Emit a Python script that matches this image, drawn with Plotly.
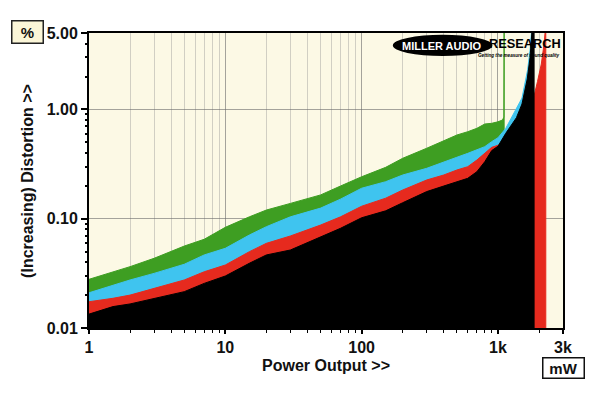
import plotly.graph_objects as go

# ---------------- data ----------------
green_x = [1, 1.5, 2, 3, 5, 7, 10, 15, 20, 30, 50, 70, 100, 150, 200, 300, 400, 500,
           600, 700, 800, 900, 1000, 1080, 1105, 1110]
green_y = [0.0279, 0.0327, 0.0364, 0.0434, 0.0562, 0.0648, 0.0834, 0.104, 0.120, 0.138,
           0.165, 0.199, 0.242, 0.295, 0.357, 0.441, 0.517, 0.583, 0.625, 0.671, 0.735,
           0.746, 0.77, 0.80, 0.85, 6.0]

cyan_x = [1, 1.5, 2, 3, 5, 7, 10, 15, 20, 30, 50, 70, 100, 150, 200, 300, 400, 500,
          600, 700, 800, 900, 1000, 1140, 1350, 1500, 1650, 1720, 1780]
cyan_y = [0.0210, 0.0247, 0.0275, 0.0316, 0.0383, 0.0466, 0.0536, 0.0709, 0.0845, 0.104,
          0.125, 0.151, 0.190, 0.218, 0.251, 0.289, 0.332, 0.365, 0.396, 0.431, 0.456,
          0.507, 0.55, 0.67, 0.99, 1.27, 2.3, 3.5, 6.0]

red_x = [1, 1.5, 2, 3, 5, 7, 10, 15, 20, 30, 50, 70, 100, 150, 200, 300, 400, 500,
         600, 700, 800, 900, 1000, 1200, 1500, 1841, 1950, 2080, 2180, 2243]
red_y = [0.0174, 0.0187, 0.0200, 0.0231, 0.0275, 0.0327, 0.0377, 0.0499, 0.0595, 0.0695,
         0.0875, 0.104, 0.130, 0.154, 0.183, 0.226, 0.251, 0.279, 0.299, 0.344, 0.397,
         0.45, 0.47, 0.50, 0.70, 1.33, 1.8, 2.6, 4.0, 6.0]

black_x = [1, 1.5, 2, 3, 5, 7, 10, 15, 20, 30, 50, 70, 100, 150, 200, 300, 400, 500,
           600, 700, 800, 900, 1000, 1140, 1366, 1500, 1640, 1720, 1790, 1841]
black_y = [0.0134, 0.0157, 0.0166, 0.0187, 0.0215, 0.0256, 0.0299, 0.0391, 0.0466, 0.0517,
           0.0684, 0.0817, 0.102, 0.118, 0.140, 0.177, 0.199, 0.218, 0.234, 0.269, 0.332,
           0.42, 0.46, 0.604, 0.84, 1.12, 1.9, 3.0, 6.0, 6.0]

x_tick_vals = [1, 10, 100, 1000, 3000]
x_tick_text = ["1", "10", "100", "1k", "3k"]
x_minor_vals = [2, 3, 4, 5, 6, 7, 8, 9, 20, 30, 40, 50, 60, 70, 80, 90,
                200, 300, 400, 500, 600, 700, 800, 900, 2000]
y_tick_vals = [0.01, 0.1, 1, 5]
y_tick_text = ["0.01", "0.10", "1.00", "5.00"]
y_minor_vals = [0.02, 0.03, 0.04, 0.05, 0.06, 0.07, 0.08, 0.09,
                0.2, 0.3, 0.4, 0.5, 0.6, 0.7, 0.8, 0.9, 2, 3, 4]

FLOOR = 1e-3  # fill baseline, below the visible range

series = [
    ("green", green_x, green_y, "#3E9E22"),
    ("cyan", cyan_x, cyan_y, "#3FC4EF"),
    ("red", red_x, red_y, "#E62A1E"),
    ("black", black_x, black_y, "#000000"),
]

fig = go.Figure()
for name, xs, ys, col in series:
    px = list(xs) + [xs[-1], xs[0]]
    py = list(ys) + [FLOOR, FLOOR]
    fig.add_trace(go.Scatter(
        x=px, y=py, mode="lines", fill="toself", fillcolor=col,
        line=dict(color=col, width=1), name=name, hoverinfo="skip",
        showlegend=False))

FONT = "Liberation Sans, Arial, sans-serif"
tickfont = dict(family=FONT, size=16, color="#111111", weight="bold")

fig.update_layout(
    width=600, height=393,
    margin=dict(l=89, r=37, t=33, b=65),
    paper_bgcolor="white",
    plot_bgcolor="#FCF9E5",
    showlegend=False,
    xaxis=dict(
        type="log", range=[0, 3.4771],
        tickmode="array", tickvals=x_tick_vals, ticktext=x_tick_text,
        tickfont=tickfont, ticks="outside", ticklen=4, tickwidth=1.5, tickcolor="black",
        showgrid=True, gridcolor="rgba(105,105,105,0.6)", gridwidth=1,
        minor=dict(tickmode="array", tickvals=x_minor_vals, ticks="outside",
                   ticklen=3, tickwidth=1, tickcolor="black",
                   showgrid=True, gridcolor="rgba(140,140,140,0.38)", gridwidth=1),
        showline=True, linecolor="black", linewidth=2, mirror=True,
        layer="above traces", zeroline=False, fixedrange=True,
    ),
    yaxis=dict(
        type="log", range=[-2, 0.69897],
        tickmode="array", tickvals=y_tick_vals, ticktext=y_tick_text,
        tickfont=tickfont, ticks="outside", ticklen=6, tickwidth=1.5, tickcolor="black",
        showgrid=True, gridcolor="rgba(105,105,105,0.6)", gridwidth=1,
        minor=dict(tickmode="array", tickvals=y_minor_vals, ticks="outside",
                   ticklen=2, tickwidth=1.5, tickcolor="black", showgrid=False),
        showline=True, linecolor="black", linewidth=2, mirror=True,
        layer="above traces", zeroline=False, fixedrange=True,
    ),
)

# Axis titles
fig.add_annotation(text="Power Output >>", xref="paper", yref="paper",
                   x=0.5, y=-0.127, showarrow=False, xanchor="center", yanchor="middle",
                   font=dict(family=FONT, size=16, color="#111111", weight="bold"))
fig.add_annotation(text="(Increasing) Distortion >>", xref="paper", yref="paper",
                   x=-0.13, y=0.5, showarrow=False, textangle=-90,
                   xanchor="center", yanchor="middle",
                   font=dict(family=FONT, size=16, color="#111111", weight="bold"))

# Unit boxes
fig.add_annotation(text="%", xref="paper", yref="paper", x=-0.1287, y=1.005,
                   xanchor="center", yanchor="middle",
                   showarrow=False, width=28, height=19,
                   bgcolor="#FBF6D8", bordercolor="#222222", borderwidth=1.5,
                   font=dict(family=FONT, size=15, color="#111111", weight="bold"))
fig.add_annotation(text="mW", xref="paper", yref="paper", x=1.0, y=-0.1356,
                   xanchor="center", yanchor="middle",
                   showarrow=False, width=38, height=17,
                   bgcolor="white", bordercolor="#111111", borderwidth=1.5,
                   font=dict(family=FONT, size=15, color="#111111", weight="bold"))

# Logo
fig.add_shape(type="circle", xref="paper", yref="paper",
              x0=0.641, x1=0.851, y0=0.922, y1=0.994,
              fillcolor="black", line=dict(color="black", width=0), layer="above")
fig.add_annotation(text="MILLER AUDIO", xref="paper", yref="paper",
                   x=0.744, y=0.957, showarrow=False, xanchor="center", yanchor="middle",
                   font=dict(family=FONT, size=11, color="white", weight="bold"))
fig.add_annotation(text="RESEARCH", xref="paper", yref="paper",
                   x=1.0, y=0.963, xanchor="right", yanchor="middle", showarrow=False,
                   font=dict(family=FONT, size=12.8, color="black", weight="bold"))
fig.add_annotation(text="<i>Getting the measure of sound quality</i>", xref="paper",
                   yref="paper", x=0.997, y=0.925, xanchor="right", yanchor="middle",
                   showarrow=False,
                   font=dict(family=FONT, size=4.6, color="black", weight="bold"))

fig.write_html("out.html", config={"displayModeBar": False},
               post_script="document.body.style.margin='0';")
